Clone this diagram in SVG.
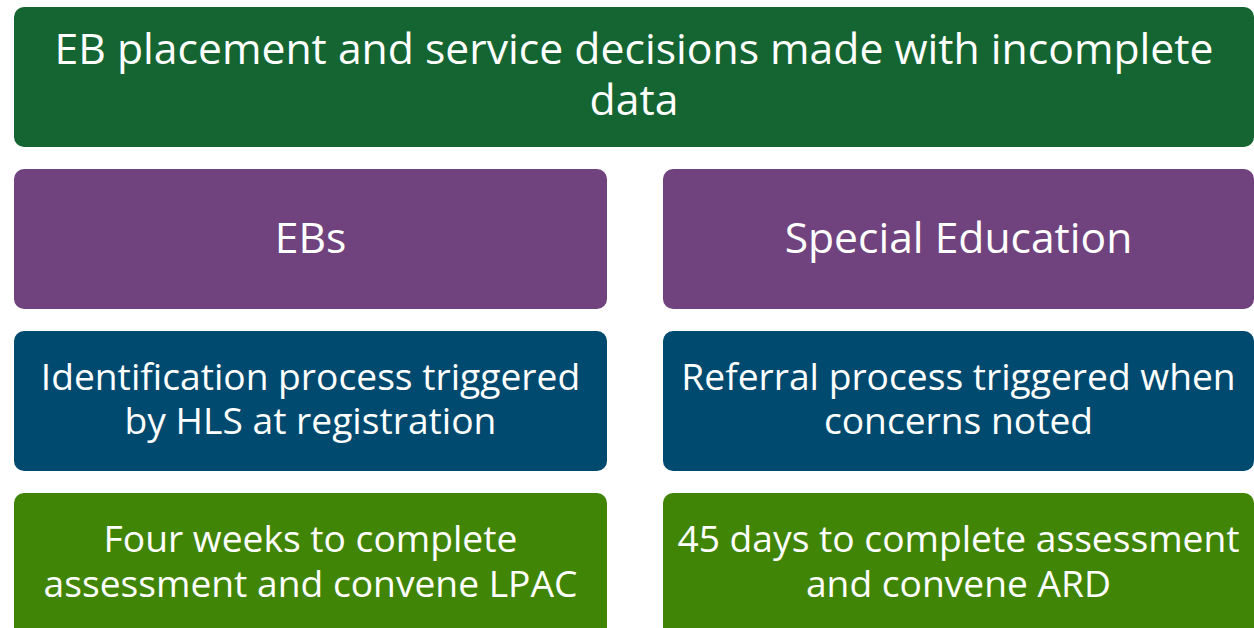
<svg xmlns="http://www.w3.org/2000/svg" width="1254" height="628" viewBox="0 0 1254 628">
  <style>
    .box { stroke: none; }
    .title { fill: #146531; }
    .group { fill: #70437e; }
    .process { fill: #004a6f; }
    .timeline { fill: #418507; }
    text { font-family: "Open Sans", "Noto Sans", "Liberation Sans", sans-serif; fill: #ffffff; text-anchor: middle; }
    .t-head { font-size: 42.7px; }
    .t-group { font-size: 42.6px; }
    .t-body { font-size: 37.2px; }
  </style>

  <g id="node-title">
    <rect class="box title" x="14" y="7" width="1240" height="140" rx="10" ry="10"/>
    <text class="t-head" x="634" y="64">EB placement and service decisions made with incomplete</text>
    <text class="t-head" x="634" y="115">data</text>
  </g>

  <g id="node-ebs">
    <rect class="box group" x="14" y="169" width="593" height="140" rx="10" ry="10"/>
    <text class="t-group" x="310.5" y="253">EBs</text>
  </g>

  <g id="node-sped">
    <rect class="box group" x="663" y="169" width="591" height="140" rx="10" ry="10"/>
    <text class="t-group" x="958.5" y="253">Special Education</text>
  </g>

  <g id="node-ebs-identification">
    <rect class="box process" x="14" y="331" width="593" height="140" rx="10" ry="10"/>
    <text class="t-body" x="310.5" y="389.5">Identification process triggered</text>
    <text class="t-body" x="310.5" y="434">by HLS at registration</text>
  </g>

  <g id="node-sped-referral">
    <rect class="box process" x="663" y="331" width="591" height="140" rx="10" ry="10"/>
    <text class="t-body" x="958.5" y="389.5">Referral process triggered when</text>
    <text class="t-body" x="958.5" y="434">concerns noted</text>
  </g>

  <g id="node-ebs-timeline">
    <rect class="box timeline" x="14" y="493" width="593" height="145" rx="10" ry="10"/>
    <text class="t-body" x="310.5" y="552">Four weeks to complete</text>
    <text class="t-body" x="310.5" y="597">assessment and convene LPAC</text>
  </g>

  <g id="node-sped-timeline">
    <rect class="box timeline" x="663" y="493" width="591" height="145" rx="10" ry="10"/>
    <text class="t-body" x="958.5" y="552">45 days to complete assessment</text>
    <text class="t-body" x="958.5" y="597">and convene ARD</text>
  </g>

  <g id="connectors"></g>
</svg>
